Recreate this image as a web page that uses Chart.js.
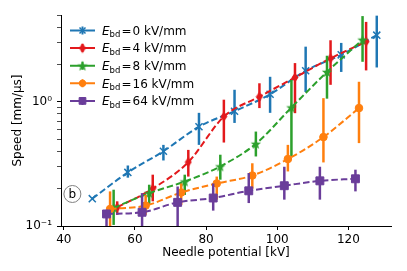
<!DOCTYPE html>
<html>
<head>
<meta charset="utf-8">
<script src="https://cdn.jsdelivr.net/npm/chart.js@4.4.1/dist/chart.umd.min.js"></script>
<style>
  html, body { margin: 0; padding: 0; background: #fff; }
  #grafico { display: block; }
</style>
</head>
<body>
<canvas id="grafico" width="407" height="271"></canvas>
<script>
// E_bd = 0 kV/mm
const X_0 = [48, 58, 68, 78, 88, 98, 108, 118, 128];
const V_0 = [0.166, 0.27, 0.40, 0.63, 0.84, 1.15, 1.78, 2.39, 3.44];
const INF_0 = [0.166, 0.245, 0.337, 0.45, 0.676, 0.815, 1.2, 1.74, 1.89];
const SUP_0 = [0.166, 0.307, 0.45, 0.815, 1.25, 1.59, 2.78, 2.98, 4.94];

// E_bd = 4 kV/mm
const X_4 = [55, 65, 75, 85, 95, 105, 115, 125];
const V_4 = [0.141, 0.20, 0.327, 0.76, 1.10, 1.57, 2.24, 3.05];
const INF_4 = [0.123, 0.158, 0.25, 0.47, 0.89, 0.81, 1.37, 1.79];
const SUP_4 = [0.158, 0.259, 0.41, 1.04, 1.41, 2.05, 3.13, 4.4];

// E_bd = 8 kV/mm
const X_8 = [54, 64, 74, 84, 94, 104, 114, 124];
const V_8 = [0.14, 0.184, 0.228, 0.302, 0.459, 0.90, 1.74, 3.16];
const INF_8 = [0.102, 0.148, 0.178, 0.236, 0.363, 0.363, 1.06, 2.1];
const SUP_8 = [0.196, 0.215, 0.259, 0.375, 0.576, 1.5, 2.35, 4.9];

// E_bd = 16 kV/mm
const X_16 = [53, 63, 73, 83, 93, 103, 113, 123];
const V_16 = [0.137, 0.146, 0.186, 0.22, 0.255, 0.346, 0.52, 0.89];
const INF_16 = [0.10, 0.123, 0.148, 0.163, 0.20, 0.275, 0.325, 0.465];
const SUP_16 = [0.19, 0.178, 0.22, 0.25, 0.32, 0.45, 1.07, 1.45];

// E_bd = 64 kV/mm
const X_64 = [52, 62, 72, 82, 92, 102, 112, 122];
const V_64 = [0.125, 0.129, 0.155, 0.168, 0.192, 0.211, 0.231, 0.24];
const INF_64 = [0.09, 0.09, 0.09, 0.133, 0.153, 0.163, 0.163, 0.19];
const SUP_64 = [0.135, 0.184, 0.208, 0.22, 0.267, 0.30, 0.30, 0.284];

const TICKS_X = [40, 60, 80, 100, 120];
const TICKS_Y = [0.1, 0.2, 0.3, 0.4, 0.5, 0.6, 0.7, 0.8, 0.9, 1, 2, 3, 4, 5];
const ETIQUETAS_Y = { 0.1: "10\u207B\u00B9", 1: "10\u2070" };

const FUENTE = "'DejaVu Sans', sans-serif";

const crearMarcador = (ancho, alto, dibujar) => {
  const c = document.createElement("canvas");
  c.width = ancho;
  c.height = alto;
  dibujar(c.getContext("2d"));
  return c;
};

const estrella = crearMarcador(12, 12, (ctx) => {
  ctx.fillStyle = "#2ca02c";
  ctx.beginPath();
  for (let k = 0; k < 10; k++) {
    const r = k % 2 === 0 ? 5.5 : 2.3;
    const a = -Math.PI / 2 + (k * Math.PI) / 5;
    ctx.lineTo(6 + r * Math.cos(a), 6.5 + r * Math.sin(a));
  }
  ctx.closePath();
  ctx.fill();
});

const diamante = crearMarcador(8, 11, (ctx) => {
  ctx.fillStyle = "#e3191c";
  ctx.beginPath();
  ctx.moveTo(4, 0.5);
  ctx.lineTo(7.5, 5.5);
  ctx.lineTo(4, 10.5);
  ctx.lineTo(0.5, 5.5);
  ctx.closePath();
  ctx.fill();
});

const SERIES = [
  { campo: "0", color: "#1f77b4", x: X_0, v: V_0, inf: INF_0, sup: SUP_0, estilo: "crossRot", radio: 5, borde: 1.5 },
  { campo: "4", color: "#e3191c", x: X_4, v: V_4, inf: INF_4, sup: SUP_4, estilo: diamante, radio: 5, borde: 0 },
  { campo: "8", color: "#2ca02c", x: X_8, v: V_8, inf: INF_8, sup: SUP_8, estilo: estrella, radio: 5, borde: 0 },
  { campo: "16", color: "#ff7f0e", x: X_16, v: V_16, inf: INF_16, sup: SUP_16, estilo: "circle", radio: 3.8, borde: 1 },
  { campo: "64", color: "#6a3d9a", x: X_64, v: V_64, inf: INF_64, sup: SUP_64, estilo: "rect", radio: 5.6, borde: 1 },
];

const barrasError = {
  id: "barrasError",
  beforeDatasetDraw(chart, args) {
    const ds = chart.data.datasets[args.index];
    const { ctx, chartArea, scales } = chart;
    ctx.save();
    ctx.beginPath();
    ctx.rect(chartArea.left, chartArea.top, chartArea.right - chartArea.left, chartArea.bottom - chartArea.top);
    ctx.clip();
    ctx.strokeStyle = ds.borderColor;
    ctx.lineWidth = 2.5;
    ds.data.forEach((p, j) => {
      if (ds.errInf[j] === ds.errSup[j]) return;
      const px = scales.x.getPixelForValue(p.x);
      ctx.beginPath();
      ctx.moveTo(px, scales.y.getPixelForValue(ds.errInf[j]));
      ctx.lineTo(px, scales.y.getPixelForValue(ds.errSup[j]));
      ctx.stroke();
    });
    ctx.restore();
  },
};

const leyenda = {
  id: "leyenda",
  afterDraw(chart) {
    const { ctx } = chart;
    chart.data.datasets.forEach((ds, i) => {
      const yc = 30.5 + i * 17.6;
      ctx.save();
      ctx.strokeStyle = ds.borderColor;
      ctx.lineWidth = 2;
      ctx.beginPath();
      ctx.moveTo(70, yc);
      ctx.lineTo(95, yc);
      ctx.moveTo(82.5, yc - 4);
      ctx.lineTo(82.5, yc + 4);
      ctx.stroke();
      ctx.fillStyle = ds.backgroundColor;
      ctx.lineWidth = ds.pointBorderWidth;
      Chart.helpers.drawPoint(ctx, {
        pointStyle: ds.pointStyle,
        radius: ds.pointRadius * 0.85,
        borderWidth: ds.pointBorderWidth,
        rotation: 0,
      }, 82.5, yc);

      const base = yc + 4.3;
      ctx.fillStyle = "#000";
      ctx.textBaseline = "alphabetic";
      ctx.font = "italic 12px " + FUENTE;
      ctx.fillText("E", 102, base);
      ctx.font = "8.5px " + FUENTE;
      ctx.fillText("bd", 109.5, base + 2.5);
      ctx.font = "12px " + FUENTE;
      ctx.fillText("=", 121.5, base);
      ctx.fillText(`${ds.campo} kV/mm`, 132.5, base);
      ctx.restore();
    });
  },
};

const etiquetaPanel = {
  id: "etiquetaPanel",
  afterDraw(chart) {
    const { ctx, scales } = chart;
    const cx = scales.x.getPixelForValue(42.4);
    const cy = scales.y.getPixelForValue(0.181);
    ctx.save();
    ctx.beginPath();
    ctx.arc(cx, cy, 8.5, 0, 2 * Math.PI);
    ctx.fillStyle = "#fff";
    ctx.fill();
    ctx.strokeStyle = "#808080";
    ctx.lineWidth = 1;
    ctx.stroke();
    ctx.fillStyle = "#000";
    ctx.font = "12px " + FUENTE;
    ctx.textAlign = "center";
    ctx.textBaseline = "middle";
    ctx.fillText("b", cx, cy + 0.5);
    ctx.restore();
  },
};

Chart.defaults.font.family = FUENTE;
Chart.defaults.font.size = 12;
Chart.defaults.color = "#000";

new Chart(document.getElementById("grafico"), {
  type: "line",
  data: {
    datasets: SERIES.map((s, i) => ({
      label: `E_bd = ${s.campo} kV/mm`,
      campo: s.campo,
      data: s.x.map((x, j) => ({ x, y: s.v[j] })),
      errInf: s.inf,
      errSup: s.sup,
      borderColor: s.color,
      backgroundColor: s.color,
      borderWidth: 2,
      borderDash: [6.5, 3],
      cubicInterpolationMode: "monotone",
      pointStyle: s.estilo,
      pointRadius: s.radio,
      pointBorderWidth: s.borde,
      pointBorderColor: s.color,
      pointBackgroundColor: s.color,
      order: SERIES.length - i,
    })),
  },
  options: {
    responsive: false,
    animation: false,
    devicePixelRatio: 1,
    events: [],
    layout: { padding: { top: 15, right: 16, left: 0, bottom: 0 } },
    plugins: {
      legend: { display: false },
      tooltip: { enabled: false },
    },
    scales: {
      x: {
        type: "linear",
        min: 39.2,
        max: 132,
        afterBuildTicks: (s) => {
          s.ticks = TICKS_X.map((v) => ({ value: v }));
        },
        afterFit: (s) => {
          s.height = 45;
        },
        ticks: { autoSkip: false, maxRotation: 0, padding: 3, color: "#000" },
        grid: { drawOnChartArea: false, tickLength: 4, color: "#000", tickWidth: 1 },
        border: { color: "#000", width: 1 },
        title: {
          display: true,
          text: "Needle potential [kV]",
          color: "#000",
          padding: { top: 0, bottom: 10.5 },
        },
      },
      y: {
        type: "logarithmic",
        min: 0.1,
        max: 5,
        afterBuildTicks: (s) => {
          s.ticks = TICKS_Y.map((v) => ({ value: v, major: v === 0.1 || v === 1 }));
        },
        afterFit: (s) => {
          s.width = 61;
        },
        ticks: {
          autoSkip: false,
          padding: 5,
          color: "#000",
          callback: (v) => ETIQUETAS_Y[v] ?? "",
        },
        grid: {
          drawOnChartArea: false,
          tickLength: 4,
          color: "#000",
          tickWidth: (ctx) => (ctx.tick && ctx.tick.major ? 1 : 0.7),
        },
        border: { color: "#000", width: 1 },
        title: {
          display: true,
          text: "Speed [mm/\u03BCs]",
          color: "#000",
          padding: { top: 10.4, bottom: 0 },
        },
      },
    },
  },
  plugins: [barrasError, leyenda, etiquetaPanel],
});
</script>
</body>
</html>
